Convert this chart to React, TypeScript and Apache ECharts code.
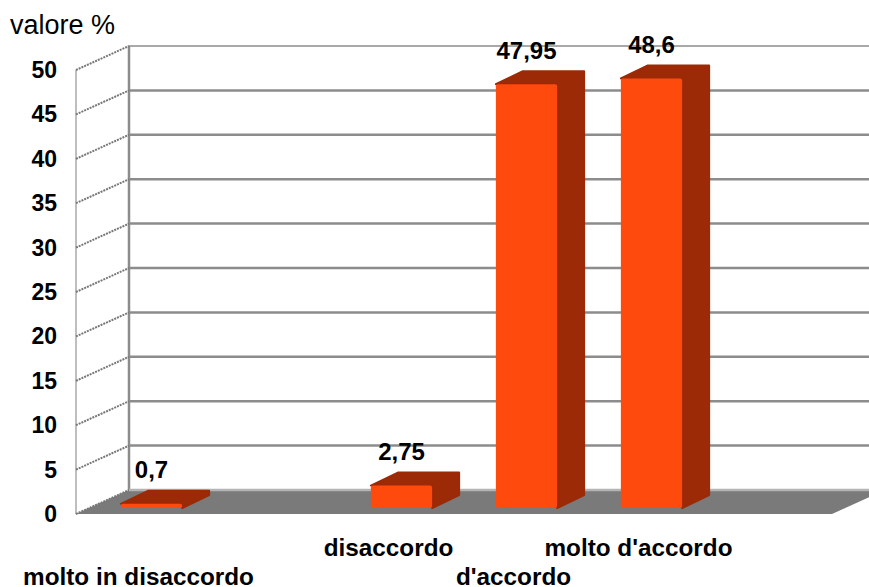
import React, { useEffect, useRef } from "react";
import * as echarts from "echarts";

const categories = ["molto in disaccordo", "", "disaccordo", "d'accordo", "molto d'accordo", ""];
const labelRows = [1, 0, 0, 1, 0, 0];
const values: (number | null)[] = [0.7, null, 2.75, 47.95, 48.6, null];
const valueLabels = ["0,7", "", "2,75", "47,95", "48,6", ""];
const yTicks = [0, 5, 10, 15, 20, 25, 30, 35, 40, 45, 50];

const FONT = '"Liberation Sans", Arial, sans-serif';
const WALL_DX = 53;
const WALL_DY = -24;

export default function App() {
  const ref = useRef<HTMLDivElement>(null);
  useEffect(() => {
    const chart = echarts.init(ref.current!, undefined, { renderer: "svg" });
    chart.setOption({
      animation: false,
      backgroundColor: "#ffffff",
      title: {
        text: "valore %",
        left: 5,
        top: 6,
        textStyle: { fontFamily: FONT, fontSize: 27, fontWeight: "normal", color: "#000" },
      },
      grid: { left: 76, top: 70, width: 750, height: 444, containLabel: false, outerBoundsMode: "none" },
      xAxis: {
        type: "category",
        data: categories,
        axisLine: { show: false },
        axisTick: { show: false },
        axisLabel: {
          interval: 0,
          hideOverlap: false,
          margin: 18,
          fontFamily: FONT,
          fontWeight: "bold",
          fontSize: 24.3,
          color: "#000",
          formatter: (v: string, i: number) => (labelRows[i] ? `{lower|${v}}` : `{upper|${v}}`),
          rich: {
            upper: { fontFamily: FONT, fontWeight: "bold", fontSize: 24.3, color: "#000", lineHeight: 30 },
            lower: {
              fontFamily: FONT,
              fontWeight: "bold",
              fontSize: 24.3,
              color: "#000",
              lineHeight: 55,
              padding: [34, 0, 0, 0],
            },
          },
        },
      },
      yAxis: {
        type: "value",
        min: 0,
        max: 50,
        interval: 5,
        axisLine: { show: false },
        axisTick: { show: false },
        splitLine: { show: false },
        axisLabel: { margin: 19, fontFamily: FONT, fontWeight: "bold", fontSize: 23, color: "#000" },
      },
      series: [
        {
          type: "custom",
          z: 1,
          clip: false,
          data: [[0, 0]],
          encode: { x: 0, y: 1 },
          silent: true,
          renderItem: (params: any, api: any) => {
            const cs = params.coordSys;
            const left = cs.x;
            const right = cs.x + cs.width + 6;
            const bottom = cs.y + cs.height;
            const top = cs.y;
            return {
              type: "group",
              children: [
                {
                  type: "polygon",
                  shape: {
                    points: [
                      [left, bottom],
                      [left + WALL_DX, bottom + WALL_DY],
                      [right + WALL_DX, bottom + WALL_DY],
                      [right, bottom],
                    ],
                  },
                  style: { fill: "#7a7a7a" },
                },
                {
                  type: "line",
                  shape: { x1: left, y1: top, x2: left, y2: bottom },
                  style: { stroke: "#a8a8a8", lineWidth: 1.5 },
                },
                {
                  type: "line",
                  shape: { x1: left + WALL_DX, y1: top + WALL_DY, x2: left + WALL_DX, y2: bottom + WALL_DY },
                  style: { stroke: "#8c8c8c", lineWidth: 2.5 },
                },
              ],
            };
          },
        },
        {
          type: "custom",
          z: 2,
          clip: false,
          data: yTicks.map((t) => [0, t]),
          encode: { x: 0, y: 1 },
          silent: true,
          renderItem: (params: any, api: any) => {
            const cs = params.coordSys;
            const v = api.value(1);
            const y = api.coord([0, v])[1];
            const width = api.getWidth();
            return {
              type: "group",
              children: [
                {
                  type: "line",
                  shape: { x1: cs.x, y1: y, x2: cs.x + WALL_DX, y2: y + WALL_DY },
                  style: { stroke: "#777777", lineWidth: 2, lineDash: [2, 1] },
                },
                {
                  type: "line",
                  shape: { x1: cs.x + WALL_DX, y1: y + WALL_DY, x2: width, y2: y + WALL_DY },
                  style: { stroke: v === 0 ? "#b4b4b4" : "#8c8c8c", lineWidth: v === 50 ? 1.5 : 2.5 },
                },
              ],
            };
          },
        },
        {
          type: "custom",
          z: 3,
          clip: false,
          data: values.map((v, i) => [i, v]),
          encode: { x: 0, y: 1 },
          renderItem: (params: any, api: any) => {
            const v = api.value(1);
            if (v == null || isNaN(v)) return null;
            const i = api.value(0);
            const band = api.size([1, 0])[0];
            const base = api.coord([i, 0]);
            const tip = api.coord([i, v]);
            const w = band * 0.49;
            const cx = base[0] + 13;
            const x0 = cx - w / 2;
            const x1 = cx + w / 2;
            const yb = base[1] - 6;
            const yt = tip[1] - 4;
            const dx = 27;
            const dy = -13;
            return {
              type: "group",
              children: [
                {
                  type: "polygon",
                  shape: {
                    points: [
                      [x0, yt],
                      [x0 + dx, yt + dy],
                      [x1 + dx, yt + dy],
                      [x1 + dx, yb + dy],
                      [x1, yb],
                      [x1, yt],
                    ],
                  },
                  style: { fill: "#9c2a06", stroke: "#9c2a06", lineWidth: 2, lineJoin: "round" },
                },
                {
                  type: "rect",
                  shape: { x: x0, y: yt, width: w, height: Math.max(yb - yt, 1), r: 2 },
                  style: { fill: "#ff4a0d" },
                },
                {
                  type: "text",
                  style: {
                    x: cx,
                    y: yt - 34,
                    text: valueLabels[i],
                    fill: "#000",
                    font: `bold 24px ${FONT}`,
                    textAlign: "center",
                    textVerticalAlign: "middle",
                  },
                },
              ],
            };
          },
        },
      ],
    });
    return () => chart.dispose();
  }, []);
  return <div ref={ref} style={{ position: "absolute", left: 0, top: 0, width: 869, height: 587 }} />;
}
